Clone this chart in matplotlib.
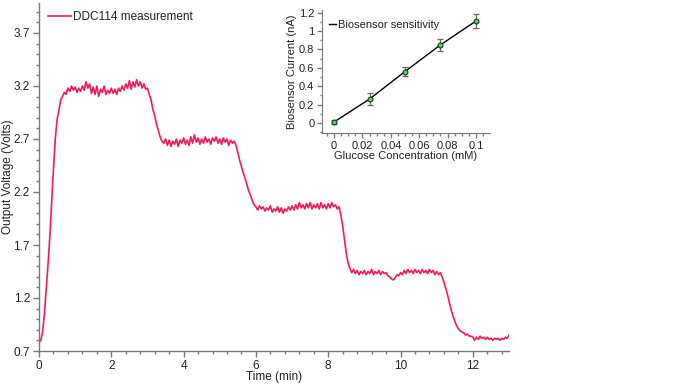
import numpy as np
import matplotlib
matplotlib.use("Agg")
import matplotlib.pyplot as plt
from matplotlib.ticker import MultipleLocator, FixedLocator, FormatStrFormatter, FuncFormatter

plt.rcParams['font.family'] = ['Liberation Sans', 'DejaVu Sans']

# ---- main measurement (sampled every 0.05 min) ----
t_step = 0.05
voltage = [
    0.78, 0.80, 0.88, 1.05, 1.28, 1.52, 1.78, 2.10, 2.42, 2.70, 2.88, 2.97, 3.07, 3.10, 3.14, 3.12, 3.18, 3.15, 3.20, 3.16,
    3.19, 3.14, 3.18, 3.15, 3.20, 3.16, 3.24, 3.18, 3.22, 3.13, 3.19, 3.12, 3.20, 3.10, 3.17, 3.14, 3.20, 3.12, 3.16, 3.13,
    3.18, 3.13, 3.17, 3.12, 3.18, 3.15, 3.20, 3.16, 3.22, 3.18, 3.25, 3.17, 3.24, 3.19, 3.26, 3.20, 3.24, 3.18, 3.22, 3.17,
    3.18, 3.12, 3.07, 2.98, 2.92, 2.84, 2.78, 2.72, 2.68, 2.66, 2.70, 2.64, 2.69, 2.63, 2.68, 2.65, 2.70, 2.63, 2.69, 2.66,
    2.71, 2.65, 2.69, 2.64, 2.72, 2.66, 2.74, 2.67, 2.71, 2.65, 2.70, 2.66, 2.72, 2.67, 2.70, 2.65, 2.71, 2.68, 2.72, 2.66,
    2.70, 2.65, 2.71, 2.67, 2.70, 2.64, 2.69, 2.66, 2.68, 2.64, 2.57, 2.50, 2.44, 2.38, 2.33, 2.27, 2.21, 2.17, 2.12, 2.08,
    2.06, 2.03, 2.07, 2.04, 2.06, 2.02, 2.05, 2.03, 2.07, 2.01, 2.04, 2.02, 2.06, 2.01, 2.05, 2.00, 2.04, 2.02, 2.06, 2.03,
    2.07, 2.03, 2.08, 2.04, 2.10, 2.05, 2.08, 2.04, 2.09, 2.05, 2.10, 2.04, 2.08, 2.05, 2.09, 2.04, 2.10, 2.05, 2.08, 2.04,
    2.09, 2.05, 2.10, 2.06, 2.08, 2.04, 2.06, 1.98, 1.88, 1.75, 1.62, 1.53, 1.48, 1.44, 1.47, 1.43, 1.46, 1.42, 1.45, 1.43,
    1.46, 1.42, 1.45, 1.43, 1.47, 1.42, 1.45, 1.43, 1.46, 1.42, 1.45, 1.43, 1.44, 1.41, 1.40, 1.38, 1.37, 1.39, 1.42, 1.41,
    1.44, 1.42, 1.46, 1.43, 1.47, 1.44, 1.46, 1.43, 1.47, 1.44, 1.46, 1.43, 1.47, 1.44, 1.46, 1.43, 1.47, 1.44, 1.46, 1.42,
    1.45, 1.42, 1.44, 1.40, 1.35, 1.29, 1.23, 1.16, 1.09, 1.03, 0.98, 0.94, 0.91, 0.89, 0.88, 0.87, 0.85, 0.86, 0.84, 0.84,
    0.83, 0.80, 0.83, 0.81, 0.84, 0.82, 0.83, 0.81, 0.83, 0.81, 0.82, 0.80, 0.82, 0.81, 0.82, 0.80, 0.82, 0.81, 0.83, 0.82,
    0.85,
]
time_min = np.arange(len(voltage)) * t_step
voltage_ticks = [0.7, 1.2, 1.7, 2.2, 2.7, 3.2, 3.7]
time_ticks = [0, 2, 4, 6, 8, 10, 12]

# ---- inset: sensitivity ----
glucose_mM = [0.0, 0.025, 0.05, 0.075, 0.1]
current_nA = [0.01, 0.26, 0.56, 0.85, 1.11]
current_err = [0.02, 0.065, 0.05, 0.065, 0.08]

main_labels = ['DDC114 measurement', 'Biosensor sensitivity']

red = '#F41C58'
spine_gray = '#7a7a7a'
txt = '#222222'
fs_main = 8.5
fs_inset = 8

fig = plt.figure(figsize=(6.8, 3.84), dpi=100)
ax = fig.add_axes([39/680, 1-351/384, 470/680, 348/384])
ax.plot(time_min, voltage, color=red, lw=1.2, label=main_labels[0])
ax.set_xlim(0, 13)
ax.set_ylim(0.7, 0.7 + 348/106)
ax.xaxis.set_major_locator(FixedLocator(time_ticks))
ax.xaxis.set_minor_locator(MultipleLocator(0.4))
ax.yaxis.set_major_locator(FixedLocator(voltage_ticks))
ax.yaxis.set_minor_locator(MultipleLocator(0.1))
ax.yaxis.set_major_formatter(FormatStrFormatter('%.1f'))
for s in ['top', 'right']:
    ax.spines[s].set_visible(False)
for s in ['left', 'bottom']:
    ax.spines[s].set_color(spine_gray)
    ax.spines[s].set_linewidth(1.0)
ax.tick_params(which='major', length=4, width=1, color=spine_gray, labelsize=fs_main, labelcolor=txt, pad=2.5)
ax.tick_params(which='minor', length=2, width=1, color=spine_gray)
ax.set_xlabel('Time (min)', fontsize=fs_main, color=txt)
ax.set_ylabel('Output Voltage (Volts)', fontsize=fs_main, color=txt)
ax.xaxis.set_label_coords(0.5, (351 - 371) / 348)
ax.yaxis.set_label_coords((14 - 39) / 470, 0.5)
leg = ax.legend(loc='upper left', bbox_to_anchor=((46 - 39) / 470, (351 - 9) / 348), frameon=False,
                fontsize=fs_main, handlelength=1.9, handletextpad=0.2, borderaxespad=0, borderpad=0.2)
for t in leg.get_texts():
    t.set_color(txt)

# inset
ax2 = fig.add_axes([322/680, 1-133/384, 168/680, 123/384])
ax2.plot(glucose_mM, current_nA, color='black', lw=1.0, label=main_labels[1])
ax2.errorbar(glucose_mM, current_nA, yerr=current_err, fmt='none', ecolor='#666666',
             elinewidth=0.9, capsize=2.5, capthick=0.9)
ax2.plot(glucose_mM, current_nA, ls='none', marker='o', ms=3.5, mfc='#4cd964', mec='#1a3a1a', mew=0.8)
ax2.set_xlim(-0.0085, 0.1099)
ax2.set_ylim(-0.11, 1.23)
ax2.xaxis.set_major_locator(MultipleLocator(0.02))
ax2.xaxis.set_minor_locator(MultipleLocator(0.005))
ax2.yaxis.set_major_locator(MultipleLocator(0.2))
ax2.yaxis.set_minor_locator(MultipleLocator(0.1))
fmt = FuncFormatter(lambda v, p: ('%g' % round(v, 3)))
ax2.xaxis.set_major_formatter(fmt)
ax2.yaxis.set_major_formatter(fmt)
for s in ['top', 'right']:
    ax2.spines[s].set_visible(False)
for s in ['left', 'bottom']:
    ax2.spines[s].set_color(spine_gray)
ax2.tick_params(which='major', length=3.5, width=1, color=spine_gray, labelsize=fs_inset, labelcolor=txt, pad=2)
ax2.tick_params(which='minor', length=1.8, width=1, color=spine_gray)
ax2.set_xlabel('Glucose Concentration (mM)', fontsize=fs_inset, color=txt, labelpad=0.5)
ax2.set_ylabel('Biosensor Current (nA)', fontsize=fs_inset, color=txt, labelpad=1)
leg2 = ax2.legend(loc='upper left', bbox_to_anchor=(0.0, 0.97), frameon=False, fontsize=fs_inset,
                  handlelength=0.7, handletextpad=0.15, borderaxespad=0.2)
for t in leg2.get_texts():
    t.set_color(txt)

fig.savefig('out.png', dpi=100)
